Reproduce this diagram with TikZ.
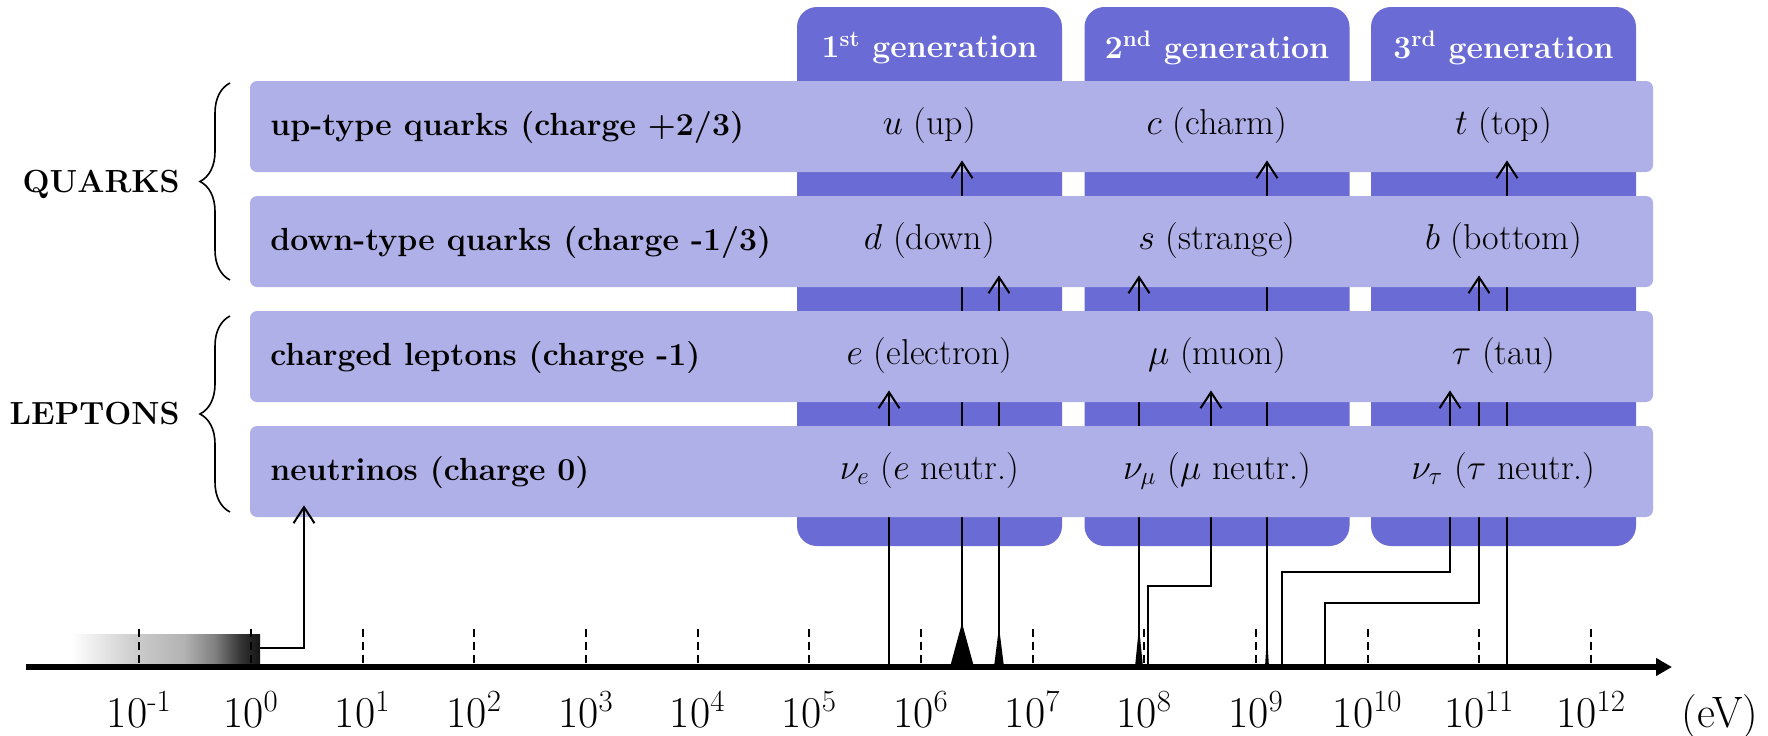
\RequirePackage{fix-cm}
\documentclass[tikz,border=0pt]{standalone}
\usetikzlibrary{arrows.meta,decorations.pathreplacing,calc}

\definecolor{genblue}{RGB}{106,107,212}
\definecolor{rowblue}{RGB}{176,176,232}

% light-to-dark band for the neutrino mass range (TikZ maps 25bp..75bp onto the path)
\pgfdeclarehorizontalshading{nuband}{100bp}{%
  color(0bp)=(white); color(25bp)=(white);
  color(42bp)=(black!20); color(55bp)=(black!30);
  color(63bp)=(black!50); color(70bp)=(black!80);
  color(75bp)=(black!92); color(100bp)=(black!92)}

\begin{document}
\begin{tikzpicture}[x=0.5pt,y=-0.5pt,
  gencol/.style={fill=genblue, draw=none, rounded corners=10pt,
    minimum width=132.5pt, minimum height=269.5pt, inner sep=0pt},
  rowbox/.style={fill=rowblue, draw=none, rounded corners=3.5pt,
    minimum width=701.5pt, minimum height=45.5pt, inner sep=0pt},
  genlbl/.style={text=white, font=\fontsize{16}{19}\selectfont\bfseries, inner sep=0pt},
  rowlbl/.style={anchor=west, font=\fontsize{16}{19}\selectfont\bfseries,
    inner sep=0pt, text height=13pt, text depth=4pt},
  partlbl/.style={font=\fontsize{18}{22}\selectfont, inner sep=0pt,
    text height=12.5pt, text depth=4.5pt},
  sidelbl/.style={anchor=east, font=\fontsize{16}{19}\selectfont\bfseries, inner sep=0pt},
  ticklbl/.style={anchor=base, font=\fontsize{22}{26}\selectfont, inner sep=0pt},
  wire/.style={line width=1pt},
  tipwire/.style={line width=1pt, -{Straight Barb[length=8pt,width=10.5pt]}},
  mass/.style={fill=black},
  tickmark/.style={line width=1pt, dash pattern=on 4pt off 2.5pt},
  grp/.style={decorate, decoration={brace, amplitude=15pt}, line width=0.8pt},
]
\useasboundingbox (0,0) rectangle (1768,735);

% generation columns
\node[gencol] (g1) at (929.5,276.5) {};
\node[gencol] (g2) at (1217,276.5) {};
\node[gencol] (g3) at (1503.5,276.5) {};
\node[genlbl] (h1) at (929.5,48) {1\textsuperscript{st} generation};
\node[genlbl] (h2) at (1217,48) {2\textsuperscript{nd} generation};
\node[genlbl] (h3) at (1503.5,48) {3\textsuperscript{rd} generation};

% neutrino mass band and decade ticks
\node[shading=nuband, minimum width=94.5pt, minimum height=15pt, inner sep=0pt] (nuband) at (165.5,649) {};
\foreach \k in {-1,0,...,12}
  \draw[tickmark] (251+111.67*\k,629) -- (251+111.67*\k,663);

% masses on the axis
\coordinate (m-e)   at (889,667);
\coordinate (m-u)   at (962,667);
\coordinate (m-d)   at (999,667);
\coordinate (m-s)   at (1139,667);
\coordinate (m-mu)  at (1148,667);
\coordinate (m-c)   at (1267,667);
\coordinate (m-tau) at (1282,667);
\coordinate (m-b)   at (1325,667);
\coordinate (m-t)   at (1507,667);
\coordinate (k-nu)  at (304,648);
\coordinate (k-mu)  at (1211,586);
\coordinate (k-tau) at (1450,572);
\coordinate (k-b)   at (1479,603);

% mass uncertainty ranges
\fill[mass] (950,667) -- (962,623) -- (974,667) -- cycle;
\fill[mass] (994,667) -- (999,627) -- (1004,667) -- cycle;
\fill[mass] (1135,667) -- (1139,627) -- (1143,667) -- cycle;
\fill[mass] (1265,667) -- (1267,635) -- (1269,667) -- cycle;

% row centres
\path (951.5,126.5) coordinate (cu) (951.5,241.5) coordinate (cd)
      (951.5,356.5) coordinate (cl) (951.5,471.5) coordinate (cn);

% connectors from the axis (behind the rows)
\draw[wire] (k-nu -| nuband.east) -- (k-nu) -- (k-nu |- 0,517);
\draw[wire] (m-e) -- (m-e |- 0,402);
\draw[wire] (m-u) -- (m-u |- 0,172);
\draw[wire] (m-d) -- (m-d |- 0,287);
\draw[wire] (m-s) -- (m-s |- 0,287);
\draw[wire] (m-mu) |- (k-mu) -- (k-mu |- 0,402);
\draw[wire] (m-c) -- (m-c |- 0,172);
\draw[wire] (m-tau) |- (k-tau) -- (k-tau |- 0,402);
\draw[wire] (m-b) |- (k-b) -- (k-b |- 0,287);
\draw[wire] (m-t) -- (m-t |- 0,172);

% energy axis
\draw[line width=3pt, -{Triangle[length=8pt,width=8.5pt]}] (26,667) -- (1672,667);
\foreach \k [count=\i] in {-1,0,...,12}
  \node[ticklbl] (lab\i) at (251+111.67*\k,727) {10\textsuperscript{\k}};
\node[ticklbl] (unit) at (1720,727) {(eV)};

% fermion rows
\node[rowbox] (rowu) at (cu) {};
\node[rowbox] (rowd) at (cd) {};
\node[rowbox] (rowl) at (cl) {};
\node[rowbox] (rown) at (cn) {};

\node[rowlbl] (lu) at (270,126.5) {up-type quarks (charge +2/3)};
\node[rowlbl] (ld) at (270,241.5) {down-type quarks (charge -1/3)};
\node[rowlbl] (ll) at (270,356.5) {charged leptons (charge -1)};
\node[rowlbl] (ln) at (270,471.5) {neutrinos (charge 0)};

\node[partlbl] (pu)   at (g1 |- rowu) {$u$ (up)};
\node[partlbl] (pc)   at (g2 |- rowu) {$c$ (charm)};
\node[partlbl] (pt)   at (g3 |- rowu) {$t$ (top)};
\node[partlbl] (pd)   at (g1 |- rowd) {$d$ (down)};
\node[partlbl] (ps)   at (g2 |- rowd) {$s$ (strange)};
\node[partlbl] (pb)   at (g3 |- rowd) {$b$ (bottom)};
\node[partlbl] (pe)   at (g1 |- rowl) {$e$ (electron)};
\node[partlbl] (pmu)  at (g2 |- rowl) {$\mu$ (muon)};
\node[partlbl] (ptau) at (g3 |- rowl) {$\tau$ (tau)};
\node[partlbl] (pne)  at (g1 |- rown) {$\nu_e$ ($e$ neutr.)};
\node[partlbl] (pnm)  at (g2 |- rown) {$\nu_\mu$ ($\mu$ neutr.)};
\node[partlbl] (pnt)  at (g3 |- rown) {$\nu_\tau$ ($\tau$ neutr.)};

% arrow heads entering the rows
\foreach \p/\r in {k-nu/rown, m-e/rowl, m-u/rowu, m-d/rowd, m-s/rowd,
                   k-mu/rowl, m-c/rowu, k-tau/rowl, k-b/rowd, m-t/rowu}
  \draw[tipwire] ($(\p |- \r.south)+(0,4)$) -- ($(\p |- \r.south)+(0,-12)$);

% grouping braces
\draw[grp] (230,280) -- (230,83);
\draw[grp] (230,512) -- (230,316);
\node[sidelbl] (quarks) at (180,184) {QUARKS};
\node[sidelbl] (leptons) at (180,414) {LEPTONS};
\end{tikzpicture}
\end{document}
